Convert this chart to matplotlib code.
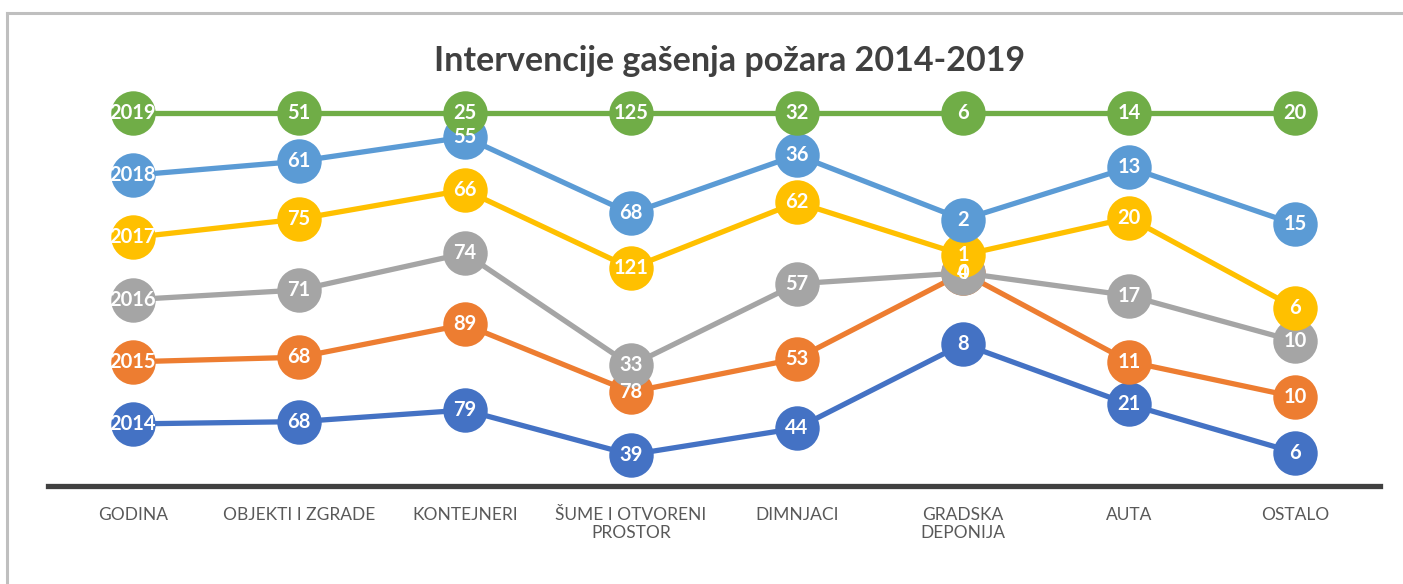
import numpy as np
import matplotlib.pyplot as plt
from matplotlib.lines import Line2D

# Kategorije intervencija
categories = ['GODINA', 'OBJEKTI I ZGRADE', 'KONTEJNERI', 'ŠUME I OTVORENI\nPROSTOR',
              'DIMNJACI', 'GRADSKA\nDEPONIJA', 'AUTA', 'OSTALO']

# Broj intervencija po godinama (prva kolona je sama godina)
v2014 = [2014, 68, 79, 39, 44, 8, 21, 6]
v2015 = [2015, 68, 89, 78, 53, 4, 11, 10]
v2016 = [2016, 71, 74, 33, 57, 0, 17, 10]
v2017 = [2017, 75, 66, 121, 62, 1, 20, 6]
v2018 = [2018, 61, 55, 68, 36, 2, 13, 15]
v2019 = [2019, 51, 25, 125, 32, 6, 14, 20]

years = ['2014', '2015', '2016', '2017', '2018', '2019']
colors = ['#4472C4', '#ED7D31', '#A5A5A5', '#FFC000', '#5B9BD5', '#70AD47']

W, H = 1403, 584
DPI = 100


def main():
    values = np.array([v2014, v2015, v2016, v2017, v2018, v2019], dtype=float)
    # 100% naslagani linijski grafikon
    cum = np.cumsum(values, axis=0) / values.sum(axis=0)

    fig = plt.figure(figsize=(W / DPI, H / DPI), dpi=DPI)
    plt.rcParams['font.family'] = ['Lato', 'DejaVu Sans']

    # Okvir grafikona (gornja i lijeva ivica)
    fig.add_artist(Line2D([7 / W, 7 / W], [0, 1 - 13 / H], color='#BFBFBF', lw=2.2))
    fig.add_artist(Line2D([7 / W, 1], [1 - 13 / H, 1 - 13 / H], color='#BFBFBF', lw=2.2))

    ax = fig.add_axes([48 / W, (H - 486) / H, (1380 - 48) / W, 373 / H])
    x = np.arange(len(categories))
    ax.set_xlim(-0.51, len(categories) - 1 + 0.51)
    ax.set_ylim(0, 1)

    for i, year in enumerate(years):
        ax.plot(x, cum[i], color=colors[i], lw=3.8, marker='o', markersize=32,
                markeredgewidth=0, clip_on=False, zorder=2 + i, solid_capstyle='butt')
    for i, year in enumerate(years):
        for j in range(len(categories)):
            ax.text(x[j], cum[i, j], '{:d}'.format(int(values[i, j])), ha='center', va='center',
                    color='white', fontsize=14.5, fontweight='bold', zorder=20)

    for side in ['top', 'left', 'right']:
        ax.spines[side].set_visible(False)
    ax.spines['bottom'].set_color('#404040')
    ax.spines['bottom'].set_linewidth(3.8)
    ax.set_yticks([])
    ax.set_xticks(x)
    ax.set_xticklabels(categories, fontsize=12.5, color='#595959', linespacing=1.15)
    ax.tick_params(axis='x', length=0, pad=15)

    fig.text(730 / W, 1 - 61 / H, 'Intervencije gašenja požara 2014-2019', ha='center', va='center',
             fontsize=24.5, fontweight='bold', color='#404040')

    fig.savefig('out.png', dpi=DPI)


if __name__ == '__main__':
    main()
